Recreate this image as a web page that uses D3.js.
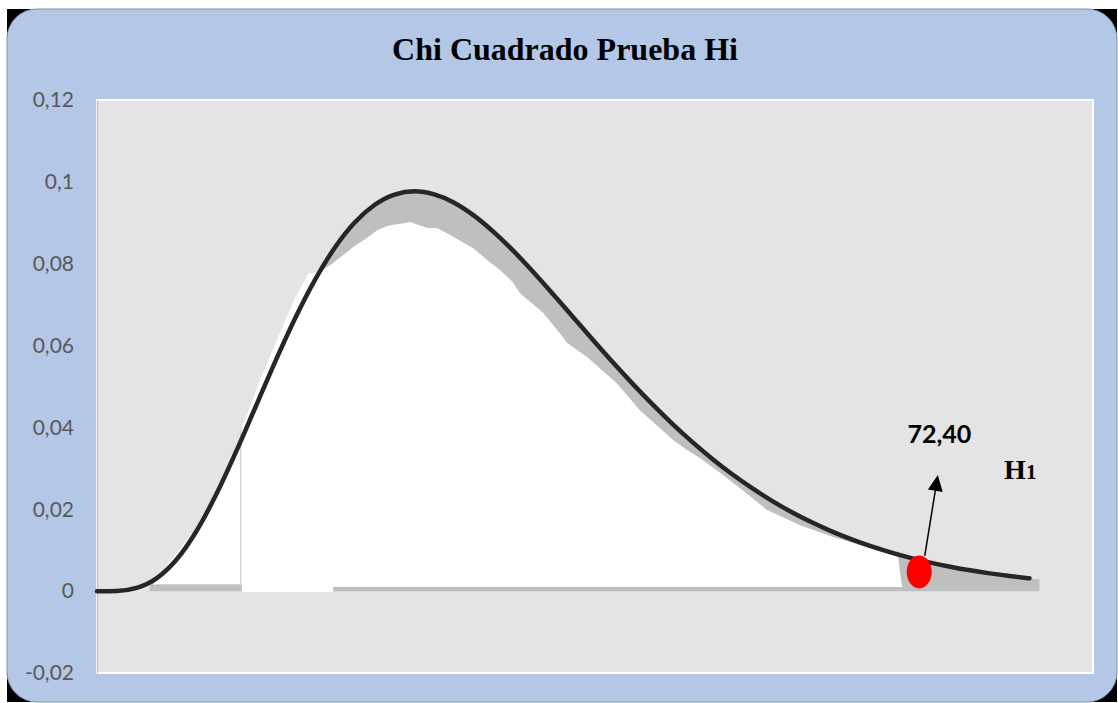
<!DOCTYPE html>
<html lang="es">
<head>
<meta charset="utf-8">
<title>Chi Cuadrado Prueba Hi</title>
<script src="https://d3js.org/d3.v7.min.js"></script>
<style>
  body { margin: 0; background: #ffffff; }
  svg { display: block; }
</style>
</head>
<body>
<svg id="chart" width="1118" height="703"></svg>
<script>
// values
const chiX = [0, 0.5, 1, 1.5, 2, 2.5, 3, 3.5, 4, 4.5, 5, 5.5, 6, 6.5, 7, 7.5, 8, 8.5, 9, 9.5,
              10, 10.5, 11, 11.5, 12, 12.5, 13, 13.5, 14, 14.5, 15, 15.5, 16, 16.5, 17, 17.5,
              18, 18.5, 19, 19.5, 20, 20.5, 21, 21.5, 22, 22.5, 23, 23.5];
const chiY = [0, 0.00006, 0.00079, 0.00311, 0.00766, 0.01457, 0.02353, 0.03396, 0.04511, 0.05628,
              0.06680, 0.07617, 0.08402, 0.09012, 0.09441, 0.09690, 0.09768, 0.09693, 0.09491, 0.09176,
              0.08773, 0.08306, 0.07792, 0.07249, 0.06694, 0.06136, 0.05590, 0.05064, 0.04562, 0.04088,
              0.03646, 0.03237, 0.02863, 0.02522, 0.02213, 0.01935, 0.01687, 0.01466, 0.01270, 0.01098,
              0.00946, 0.00813, 0.00697, 0.00597, 0.00509, 0.00434, 0.00369, 0.00313];

// grey shading starts and ends a bit outside the curve
const greyEdge = [[1.33, 0.0018], [23.75, 0.0029]];

// white patch pasted over the shading
const maskX = [1.41, 1.59, 1.92, 2.52, 3.02, 3.35, 3.60, 3.66, 3.76, 4.11, 4.53, 5.00, 5.33, 5.62, 5.95,
               6.45, 6.80, 7.06, 7.31, 7.89, 8.32, 8.57, 8.90, 9.48, 9.83, 10.16, 10.48, 10.66, 11.24,
               11.74, 11.84, 12.35, 13.10, 13.68, 14.52, 14.87, 15.20, 15.70, 16.20, 16.89, 17.72, 18.55,
               19.41, 19.98, 20.19, 20.24, 20.29, 5.95, 5.95, 3.65, 3.65, 1.51];
const maskY = [0.0015, 0.0039, 0.0083, 0.0157, 0.0247, 0.0303, 0.0352, 0.0406, 0.0425, 0.0516, 0.0613,
               0.0718, 0.0777, 0.0780, 0.0802, 0.0840, 0.0863, 0.0882, 0.0892, 0.0902, 0.0887, 0.0887,
               0.0870, 0.0838, 0.0809, 0.0784, 0.0755, 0.0728, 0.0680, 0.0621, 0.0607, 0.0572, 0.0508,
               0.0442, 0.0369, 0.0345, 0.0325, 0.0289, 0.0252, 0.0198, 0.0161, 0.0132, 0.0108, 0.0093,
               0.0083, 0.0044, 0.0010, 0.0010, -0.0002, -0.0002, 0.0017, 0.0017];

const yTicks = [0.12, 0.1, 0.08, 0.06, 0.04, 0.02, 0, -0.02];
const yTickLabels = ["0,12", "0,1", "0,08", "0,06", "0,04", "0,02", "0", "-0,02"];

const critPoint = [20.72, 0.0047];
const arrowFrom = [20.86, 0.0086];
const arrowTo = [21.19, 0.0284];
const critLabel = "72,40";

const svg = d3.select("#chart");

// frame
svg.append("rect")
  .attr("x", 7).attr("y", 9).attr("width", 1110).attr("height", 693)
  .attr("fill", "#000000");
svg.append("rect")
  .attr("x", 7).attr("y", 9).attr("width", 1110).attr("height", 693)
  .attr("rx", 30).attr("ry", 30)
  .attr("fill", "#b4c7e7")
  .attr("stroke", "#8193b0").attr("stroke-width", 1);

svg.append("text")
  .attr("x", 565).attr("y", 60)
  .attr("text-anchor", "middle")
  .attr("font-family", "'Liberation Serif', 'Times New Roman', serif")
  .attr("font-weight", "bold")
  .attr("font-size", 32)
  .text("Chi Cuadrado Prueba Hi");

const plot = { left: 97, top: 100, right: 1093, bottom: 673 };

const x = d3.scaleLinear().domain([0, 25.1]).range([plot.left, plot.right]);
const y = d3.scaleLinear().domain([-0.02, 0.12]).range([plot.bottom, plot.top]);

svg.append("rect")
  .attr("x", plot.left).attr("y", plot.top)
  .attr("width", plot.right - plot.left).attr("height", plot.bottom - plot.top)
  .attr("fill", "#e4e4e4")
  .attr("stroke", "#ffffff").attr("stroke-width", 2);

// y axis
const yAxis = d3.axisLeft(y)
  .tickValues(yTicks)
  .tickSize(0)
  .tickPadding(23)
  .tickFormat((d, i) => yTickLabels[i]);

const ga = svg.append("g")
  .attr("transform", `translate(${plot.left},0)`)
  .call(yAxis);
ga.select(".domain").attr("stroke", "#c4c4c4").attr("stroke-width", 1.5);
ga.selectAll("text")
  .attr("font-family", "Lato, 'Open Sans', sans-serif")
  .attr("font-size", 21)
  .attr("fill", "#595959");

const pts = chiX.map((v, i) => [v, chiY[i]]);

// grey area under the curve
const greyPts = [greyEdge[0]].concat(pts.filter(p => p[0] >= 1.5), [greyEdge[1]]);
const area = d3.area()
  .x(d => x(d[0]))
  .y0(y(0))
  .y1(d => y(d[1]))
  .curve(d3.curveMonotoneX);
svg.append("path")
  .datum(greyPts)
  .attr("fill", "#bfbfbf")
  .attr("d", area);

// white patch
const maskPts = maskX.map((v, i) => [v, maskY[i]]);
const polyLine = d3.line().x(d => x(d[0])).y(d => y(d[1]));
svg.append("path")
  .attr("d", polyLine(maskPts) + "Z")
  .attr("fill", "#ffffff");

// faint seam in the white patch
svg.append("line")
  .attr("x1", x(3.62)).attr("x2", x(3.62))
  .attr("y1", y(0.0395)).attr("y2", y(0.0015))
  .attr("stroke", "#cfcfcf").attr("stroke-width", 1.2);

// density curve
const line = d3.line()
  .x(d => x(d[0]))
  .y(d => y(d[1]))
  .curve(d3.curveMonotoneX);
svg.append("path")
  .datum(pts)
  .attr("fill", "none")
  .attr("stroke", "#262626")
  .attr("stroke-width", 4.5)
  .attr("stroke-linecap", "round")
  .attr("d", line);

// critical point
svg.append("ellipse")
  .attr("cx", x(critPoint[0])).attr("cy", y(critPoint[1]))
  .attr("rx", 12.5).attr("ry", 16.5)
  .attr("fill", "#ff0000");

// arrow
const ax0 = x(arrowFrom[0]), ay0 = y(arrowFrom[1]);
const ax1 = x(arrowTo[0]), ay1 = y(arrowTo[1]);
const len = Math.hypot(ax1 - ax0, ay1 - ay0);
const ux = (ax1 - ax0) / len, uy = (ay1 - ay0) / len;
const headL = 16, headW = 7.5;
const bx = ax1 - ux * headL, by = ay1 - uy * headL;
svg.append("line")
  .attr("x1", ax0).attr("y1", ay0)
  .attr("x2", bx).attr("y2", by)
  .attr("stroke", "#000000").attr("stroke-width", 1.5);
svg.append("path")
  .attr("d", `M${ax1},${ay1}L${bx - uy * headW},${by + ux * headW}L${bx + uy * headW},${by - ux * headW}Z`)
  .attr("fill", "#000000");

svg.append("text")
  .attr("x", x(21.23)).attr("y", y(0.0362))
  .attr("text-anchor", "middle")
  .attr("font-family", "Lato, 'Open Sans', sans-serif")
  .attr("font-weight", "bold")
  .attr("font-size", 25)
  .attr("fill", "#000000")
  .text(critLabel);

const h1 = svg.append("text")
  .attr("x", x(22.86)).attr("y", y(0.0274))
  .attr("font-family", "'Liberation Serif', 'Times New Roman', serif")
  .attr("font-weight", "bold")
  .attr("fill", "#000000");
h1.append("tspan").attr("font-size", 28).text("H");
h1.append("tspan").attr("font-size", 21).text("1");
</script>
</body>
</html>
